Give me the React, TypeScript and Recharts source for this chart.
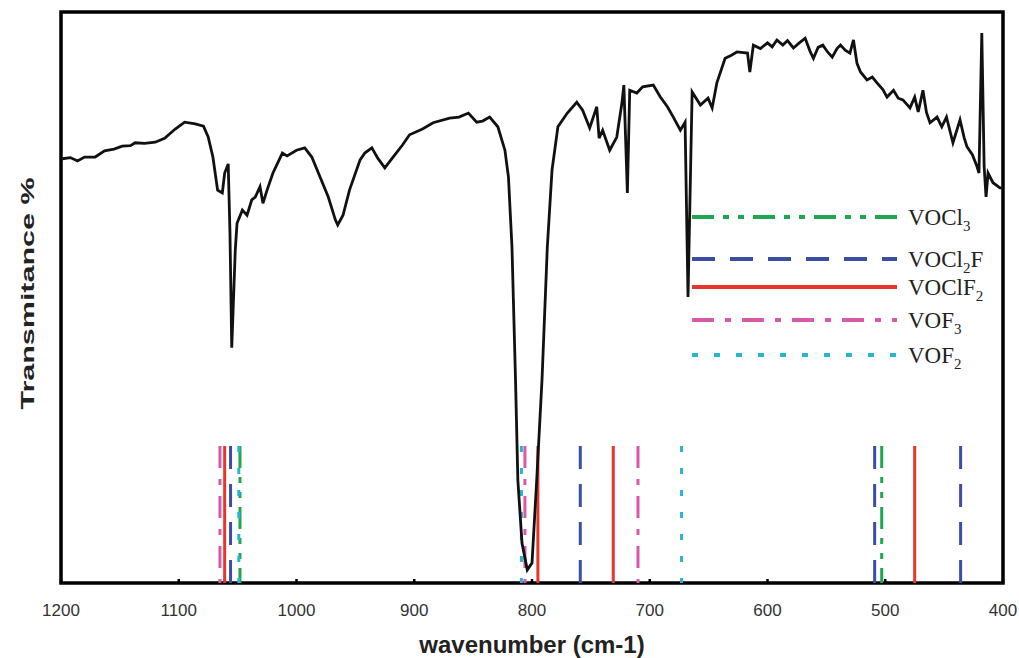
import { Label, Legend, Line, LineChart, ReferenceArea, ReferenceLine, XAxis, YAxis } from "recharts";

// wavenumber (cm-1), transmittance (arbitrary %, 0 = plot floor)
const spectrum: [number, number][] = [
  [1199, 74.3], [1192, 74.5], [1186, 73.9], [1180, 74.6], [1171, 74.6], [1163, 75.7],
  [1155, 76.0], [1148, 76.5], [1141, 76.6], [1137, 77.1], [1129, 77.0], [1120, 77.2],
  [1112, 77.9], [1103, 79.5], [1095, 80.7], [1086, 80.4], [1079, 80.0], [1075, 78.1],
  [1071, 74.6], [1067, 68.8], [1063, 68.3], [1061, 71.8], [1058, 73.4], [1056.5, 61.3],
  [1055, 41.2], [1052, 58.3], [1050.5, 63.0], [1046, 65.3], [1042, 64.4], [1038, 67.1],
  [1035, 67.6], [1031, 69.4], [1028.5, 66.5], [1025, 68.8], [1020, 71.8], [1012, 75.3],
  [1008, 74.8], [1000, 75.8], [993, 76.2], [987, 74.6], [980, 71.1], [973, 67.6],
  [967, 63.6], [965, 62.7], [960.5, 64.4], [955, 68.8], [946, 74.1], [942, 75.3],
  [936, 76.2], [931, 74.4], [925, 72.7], [918, 74.6], [910, 76.7], [904, 78.5],
  [893, 79.5], [884, 80.6], [870, 81.4], [862, 81.6], [854, 82.3], [847, 80.7],
  [842, 80.9], [836, 81.6], [829, 79.9], [823, 75.8], [820, 71.1], [817, 58.8],
  [814, 35.6], [812, 18.0], [808.5, 7.0], [804, 2.3], [800, 3.5], [796, 18.0],
  [791.5, 35.6], [787, 58.8], [783, 72.3], [778, 79.9], [770, 82.3], [762, 84.2],
  [757, 82.8], [751, 79.7], [745, 83.4], [743, 77.9], [740, 79.3], [734, 75.8],
  [728, 78.1], [723.6, 84.1], [722, 87.2], [719, 68.3], [717, 86.3], [711, 85.8],
  [706, 86.9], [697, 87.2], [691, 85.1], [685, 83.4], [680, 81.6], [674, 79.3],
  [670, 80.7], [667.5, 50.1], [664, 86.0], [657, 83.7], [650.5, 84.9], [647, 83.2],
  [643, 87.6], [636, 91.9], [631, 92.4], [626, 93.0], [617, 92.8], [615, 89.5],
  [612, 94.2], [606, 93.6], [600, 94.6], [596, 93.9], [592, 95.1], [587, 94.2],
  [583, 95.0], [578, 93.7], [573, 94.6], [568, 95.4], [564, 93.2], [561, 91.9],
  [557, 93.8], [553, 94.2], [549, 93.0], [545, 92.1], [541, 93.6], [538, 94.2],
  [534, 93.3], [530, 92.8], [527, 95.1], [524, 91.0], [521, 89.5], [515.5, 88.1],
  [511, 88.6], [507, 87.6], [502, 86.4], [498.5, 85.1], [493, 86.3], [489, 84.9],
  [485, 84.6], [479, 83.2], [475, 85.1], [472, 82.5], [468, 86.3], [465, 82.4],
  [462, 80.6], [456, 81.6], [452, 79.9], [448, 81.6], [442.5, 77.1], [436.5, 81.1],
  [433, 78.0], [430.6, 76.4], [426, 75.0], [422, 72.9], [420.4, 71.8], [418, 96.3],
  [416, 72.9], [414.4, 67.6], [412.7, 71.8], [408.5, 70.1], [402.6, 69.2], [400, 69.2],
];

const xTicks = [1200, 1100, 1000, 900, 800, 700, 600, 500, 400];

// calculated band positions (cm-1) for each species
const vocl3Bands = [1048, 503];
const vocl2fBands = [1056, 759, 509, 436];
const voclf2Bands = [1061, 795, 731, 475];
const vof3Bands = [1065, 806, 710];
const vof2Bands = [1049, 809, 673];
const bandTop = 24;

const species = [
  { name: "VOCl3", bands: vocl3Bands, color: "#1fa650", dash: "22 9 6 9 6 9" },
  { name: "VOCl2F", bands: vocl2fBands, color: "#3a4ea3", dash: "23 15" },
  { name: "VOClF2", bands: voclf2Bands, color: "#e8352b", dash: undefined },
  { name: "VOF3", bands: vof3Bands, color: "#d75aa9", dash: "22 11 6 11" },
  { name: "VOF2", bands: vof2Bands, color: "#27b6d2", dash: "6 16" },
];

const data = spectrum.map(([wn, t]) => ({ wn, t }));

// subscript digits in a formula
function formula(name: string) {
  const parts = name.match(/[A-Za-z]+|\d+/g) ?? [];
  let low = false;
  return parts.map((p, i) => {
    const sub = /\d/.test(p);
    const dy = sub ? 6 : low ? -6 : 0;
    low = sub;
    return (
      <tspan key={i} dy={dy} fontSize={sub ? 15 : 23}>
        {p}
      </tspan>
    );
  });
}

const rowY = [22, 64, 92, 125, 160];

function SpeciesLegend() {
  return (
    <svg width={330} height={180}>
      {species.map((s, i) => (
        <g key={s.name}>
          <line
            x1={2}
            x2={207}
            y1={rowY[i]}
            y2={rowY[i]}
            stroke={s.color}
            strokeWidth={4}
            strokeDasharray={s.dash}
          />
          <text x={218} y={rowY[i] + 8} fontFamily="'Liberation Serif', serif" fill="#222">
            {formula(s.name)}
          </text>
        </g>
      ))}
    </svg>
  );
}

// the printed y label is tall and narrow, so stretch it along its length
function YTitle({ viewBox }: { viewBox?: { x: number; y: number; width: number; height: number } }) {
  if (!viewBox) return null;
  const x = viewBox.x + 34;
  const y = viewBox.y + viewBox.height / 2 - 4;
  return (
    <text
      x={x}
      y={y}
      transform={`rotate(-90, ${x}, ${y})`}
      textAnchor="middle"
      fontSize={19}
      fontWeight="bold"
      fill="#222"
      textLength={232}
      lengthAdjust="spacingAndGlyphs"
    >
      Transmitance %
    </text>
  );
}

export default function App() {
  return (
    <div style={{ position: "absolute", left: 0, top: 0, background: "#fff" }}>
      <LineChart
        width={1019}
        height={658}
        data={data}
        margin={{ top: 12, right: 16, bottom: 0, left: 0 }}
        style={{ fontFamily: "'Liberation Sans', Arial, sans-serif" }}
      >
        <XAxis
          dataKey="wn"
          type="number"
          domain={[400, 1200]}
          reversed
          ticks={xTicks}
          height={75}
          axisLine={false}
          tickLine={{ stroke: "#000", strokeWidth: 2.5 }}
          tickSize={-4}
          tickMargin={25}
          tick={{ fontSize: 17, fill: "#333" }}
        >
          <Label
            value="wavenumber (cm-1)"
            position="insideBottom"
            offset={5}
            style={{ fontSize: 24, fontWeight: "bold", fill: "#222" }}
          />
        </XAxis>
        <YAxis type="number" domain={[0, 100]} width={61} tick={false} axisLine={false} tickLine={false}>
          <Label content={<YTitle />} />
        </YAxis>
        <ReferenceArea x1={1200} x2={400} y1={0} y2={100} fill="none" stroke="#000" strokeWidth={3.5} />
        {species.flatMap((s) =>
          s.bands.map((b) => (
            <ReferenceLine
              key={`${s.name}-${b}`}
              segment={[
                { x: b, y: bandTop },
                { x: b, y: 0 },
              ]}
              stroke={s.color}
              strokeWidth={3}
              strokeDasharray={s.dash}
            />
          )),
        )}
        <Line
          type="linear"
          dataKey="t"
          stroke="#111"
          strokeWidth={2.8}
          dot={false}
          isAnimationActive={false}
        />
        <Legend
          content={<SpeciesLegend />}
          layout="horizontal"
          verticalAlign="middle"
          align="center"
          wrapperStyle={{ left: 690, top: 195, width: 330, height: 180 }}
        />
      </LineChart>
    </div>
  );
}
